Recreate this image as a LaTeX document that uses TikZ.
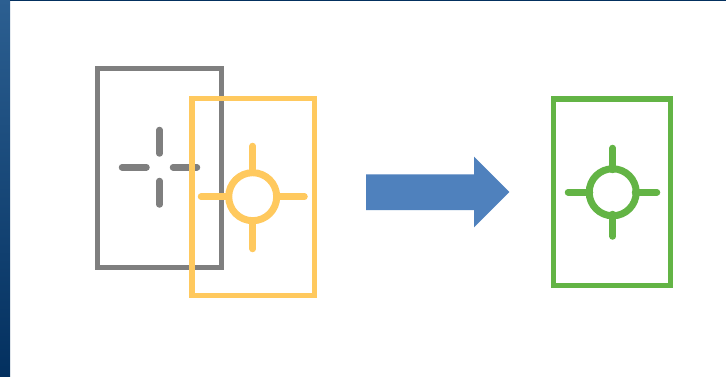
\documentclass[tikz,border=0pt]{standalone}
\definecolor{gframe}{HTML}{7F7F7F}
\definecolor{yframe}{HTML}{FFC95E}
\definecolor{grframe}{HTML}{63B445}
\definecolor{arrowblue}{HTML}{4F81BD}
\definecolor{bandtop}{HTML}{2C5F91}
\definecolor{bandbot}{HTML}{03305F}
\begin{document}
\begin{tikzpicture}[x=1pt,y=-1pt,
  frame/.style={line width=5.5pt},
  tick/.style={line width=6.5pt,line cap=round},
  ring/.style={line width=7pt}]
\useasboundingbox (0,0) rectangle (726,377);
\fill[white] (0,0) rectangle (726,377);
\shade[top color=bandtop,bottom color=bandbot] (0,0) rectangle (10,377);
\fill[bandbot] (10,0) rectangle (726,1.2);
% gray frame
\draw[gframe,frame] (97.5,68.5) rectangle (221.5,267.5);
\coordinate (gc) at (159.5,167.3);
\draw[gframe,tick] (159.5,130) -- (159.5,153.5);
\draw[gframe,tick] (159.5,181) -- (159.5,204.5);
\draw[gframe,tick] (122,167.3) -- (146.5,167.3);
\draw[gframe,tick] (173,167.3) -- (197,167.3);
% yellow frame
\draw[yframe,frame] (192,98.5) rectangle (314.5,295.5);
\coordinate (yc) at (252.7,196.7);
\draw[yframe,ring] (yc) circle[radius=24];
\draw[yframe,tick] (252.7,146) -- (252.7,172);
\draw[yframe,tick] (252.7,221) -- (252.7,249);
\draw[yframe,tick] (201,196.7) -- (228,196.7);
\draw[yframe,tick] (277,196.7) -- (304.5,196.7);
% arrow
\fill[arrowblue] (366,174.3) -- (474,174.3) -- (474,156.7) -- (509.3,192) -- (474,227.3) -- (474,210) -- (366,210) -- cycle;
% green frame
\draw[grframe,frame] (553.5,99) rectangle (670.5,285.5);
\coordinate (gr) at (612.7,192.3);
\draw[grframe,ring] (gr) circle[radius=23.5];
\draw[grframe,tick] (612.7,148) -- (612.7,170);
\draw[grframe,tick] (612.7,214) -- (612.7,236.5);
\draw[grframe,tick] (568,192.3) -- (590,192.3);
\draw[grframe,tick] (635,192.3) -- (657,192.3);
\end{tikzpicture}
\end{document}
